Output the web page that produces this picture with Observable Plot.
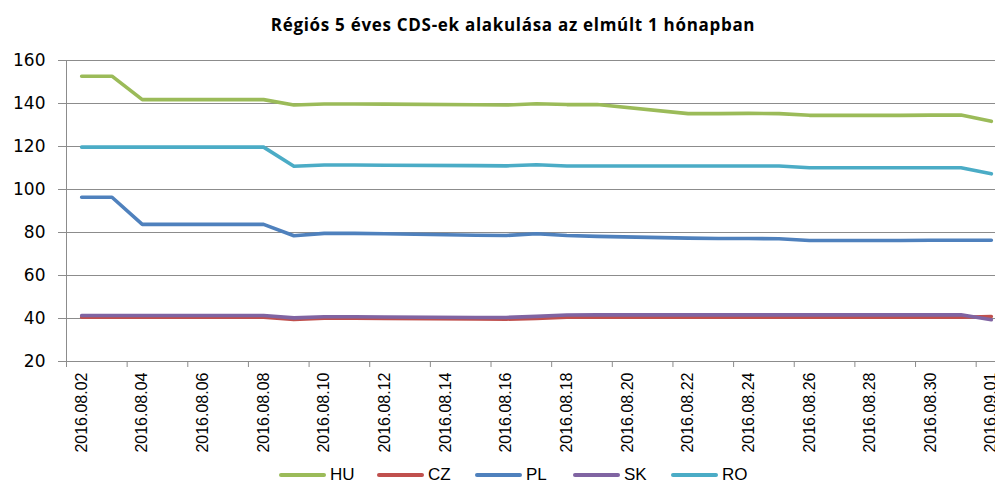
<!DOCTYPE html>
<html><head><meta charset="utf-8">
<script src="https://cdn.jsdelivr.net/npm/d3@7"></script>
<script src="https://cdn.jsdelivr.net/npm/@observablehq/plot@0.6"></script>
<style>
html,body{margin:0;padding:0;background:#fff;overflow:hidden;width:995px;height:487px}
#wrap{width:1026px;position:relative}
#title{height:42px;line-height:50px;text-align:center;font-family:"Open Sans",sans-serif;font-weight:bold;font-size:17px;letter-spacing:0.7px;color:#000}
#chart svg{display:block;overflow:visible}
#legend{height:25px;display:flex;align-items:center;padding-left:279px;font-family:"Liberation Sans Narrow","Liberation Sans",sans-serif;font-size:17px;color:#000}
.item{width:98px;display:flex;align-items:center}
.sw{width:47px;height:4px;margin-right:4px;border-radius:2px}
</style></head><body>
<div id="wrap">
<div id="title">Régiós 5 éves CDS-ek alakulása az elmúlt 1 hónapban</div>
<div id="chart"></div>
<div id="legend"></div>
</div>
<script>
const dates = ["2016.08.02","2016.08.03","2016.08.04","2016.08.05","2016.08.08","2016.08.09","2016.08.10","2016.08.11","2016.08.12","2016.08.15","2016.08.16","2016.08.17","2016.08.18","2016.08.19","2016.08.22","2016.08.23","2016.08.24","2016.08.25","2016.08.26","2016.08.29","2016.08.30","2016.08.31","2016.09.01"];
const HU = [152.7,152.7,141.8,141.8,141.8,139.3,139.8,139.8,139.7,139.4,139.3,139.9,139.5,139.5,135.3,135.3,135.4,135.3,134.5,134.5,134.6,134.6,131.7];
const CZ = [40.6,40.6,40.6,40.6,40.6,39.5,40.1,40.1,40.0,39.8,39.7,40.0,40.6,40.6,40.6,40.6,40.6,40.6,40.6,40.6,40.6,40.6,40.9];
const PL = [96.4,96.4,83.8,83.8,83.8,78.5,79.6,79.6,79.4,78.7,78.6,79.4,78.6,78.2,77.4,77.2,77.2,77.1,76.3,76.3,76.4,76.4,76.4];
const SK = [41.4,41.4,41.4,41.4,41.4,40.3,40.8,40.8,40.7,40.5,40.5,41.0,41.6,41.7,41.7,41.7,41.7,41.7,41.7,41.7,41.7,41.7,39.4];
const RO = [119.7,119.7,119.7,119.7,119.7,110.8,111.4,111.4,111.3,111.1,111.0,111.5,110.9,110.9,110.9,110.9,110.9,110.9,110.1,110.1,110.1,110.1,107.3];
const seriesNames = ["HU","CZ","PL","SK","RO"];
const seriesColors = ["#9BBB59","#C0504D","#4F81BD","#8064A2","#4BACC6"];
const yTicks = [20,40,60,80,100,120,140,160];
const xLabels = ["2016.08.02","2016.08.04","2016.08.06","2016.08.08","2016.08.10","2016.08.12","2016.08.14","2016.08.16","2016.08.18","2016.08.20","2016.08.22","2016.08.24","2016.08.26","2016.08.28","2016.08.30","2016.09.01"];

const parse = d3.utcParse("%Y.%m.%d");
const fmt = d3.utcFormat("%Y.%m.%d");
const values = {HU, CZ, PL, SK, RO};
const rows = seriesNames.flatMap(s => dates.map((d, i) => ({series: s, date: parse(d), value: values[s][i]})));
const half = 12 * 3600 * 1000;
const labelDates = xLabels.map(parse);
const tickDates = labelDates.map(d => new Date(+d - half));
const domain = [new Date(+parse(dates[0]) - half), new Date(+parse(dates[dates.length-1]) + half)];

const chart = Plot.plot({
  width: 1006, height: 420,
  marginLeft: 66, marginRight: 0, marginTop: 18, marginBottom: 101,
  style: {background: "#fff"},
  x: {type: "utc", domain, label: null},
  y: {domain: [20, 160], label: null},
  color: {domain: seriesNames, range: seriesColors},
  marks: [
    Plot.gridY(yTicks, {stroke: "#8c8c8c", strokeOpacity: 1, strokeWidth: 1}),
    Plot.ruleX([domain[0]], {stroke: "#8c8c8c", strokeWidth: 1}),
    Plot.axisY(yTicks, {tickSize: 8, tickPadding: 13, stroke: "#8c8c8c", fontSize: 17, fontFamily: "DejaVu Sans", fill: "#000", label: null}),
    Plot.axisX(tickDates, {tickSize: 6, tickFormat: () => "", stroke: "#8c8c8c", label: null}),
    Plot.axisX(labelDates, {tickSize: 0, tickPadding: 11, tickRotate: -90, tickFormat: fmt, fontSize: 16, fontFamily: "Liberation Sans", fill: "#000", label: null}),
    Plot.line(rows, {x: "date", y: "value", z: "series", stroke: "series", strokeWidth: 3.6, strokeLinecap: "round", strokeLinejoin: "round"})
  ]
});
document.getElementById("chart").appendChild(chart);

const legend = document.getElementById("legend");
seriesNames.forEach((s, i) => {
  const it = document.createElement("div"); it.className = "item";
  const sw = document.createElement("div"); sw.className = "sw"; sw.style.background = seriesColors[i];
  const t = document.createElement("span"); t.textContent = s;
  it.appendChild(sw); it.appendChild(t); legend.appendChild(it);
});
</script>
</body></html>
